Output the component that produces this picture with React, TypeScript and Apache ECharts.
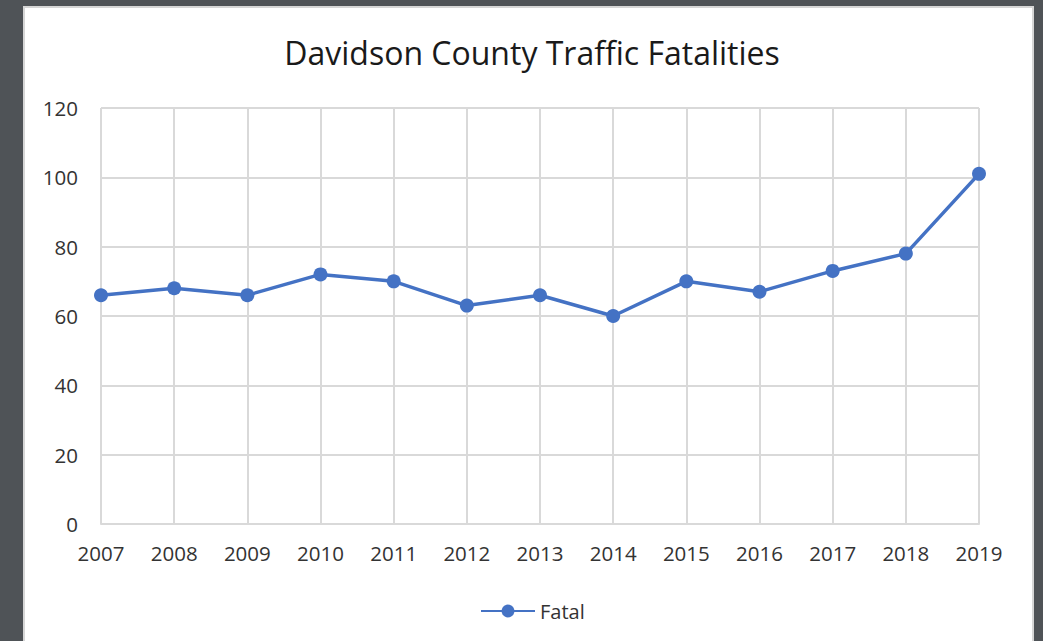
import React, { useEffect, useRef } from "react";
import * as echarts from "echarts";

const years = ["2007","2008","2009","2010","2011","2012","2013","2014","2015","2016","2017","2018","2019"];
const fatal = [66, 68, 66, 72, 70, 63, 66, 60, 70, 67, 73, 78, 101];
const seriesName = "Fatal";
const titleText = "Davidson County Traffic Fatalities";

export default function App() {
  const ref = useRef<HTMLDivElement>(null);
  useEffect(() => {
    document.body.style.margin = "0";
    const chart = echarts.init(ref.current!, undefined, { renderer: "svg" });
    const font = "'Open Sans', sans-serif";
    chart.setOption({
      animation: false,
      backgroundColor: "#4f5357",
      graphic: [
        {
          type: "rect",
          z: -10,
          shape: { x: 24, y: 7, width: 1009, height: 640 },
          style: { fill: "#ffffff", stroke: "#d6d6d6", lineWidth: 2 },
        },
      ],
      title: {
        text: titleText,
        left: 527,
        textAlign: "center",
        top: 31,
        textStyle: { fontFamily: font, fontSize: 32, fontWeight: "normal", color: "#1a1a1a" },
      },
      legend: {
        data: [seriesName],
        left: 475,
        top: 596,
        itemWidth: 54,
        itemHeight: 16,
        itemGap: 6,
        textStyle: { fontFamily: font, fontSize: 20, color: "#333333" },
      },
      grid: { left: 101, right: 64, top: 108, bottom: 117 },
      xAxis: {
        type: "category",
        data: years,
        boundaryGap: false,
        axisLine: { lineStyle: { color: "#d9d9d9", width: 2 } },
        axisTick: { show: false },
        axisLabel: { fontFamily: font, fontSize: 20.5, color: "#333333", margin: 18 },
        splitLine: { show: true, lineStyle: { color: "#d9d9d9", width: 2 } },
      },
      yAxis: {
        type: "value",
        min: 0,
        max: 120,
        interval: 20,
        axisLine: { show: false },
        axisTick: { show: false },
        axisLabel: { fontFamily: font, fontSize: 20.5, color: "#333333", margin: 23 },
        splitLine: { lineStyle: { color: "#d9d9d9", width: 2 } },
      },
      series: [
        {
          name: seriesName,
          type: "line",
          data: fatal,
          symbol: "circle",
          symbolSize: 14,
          lineStyle: { color: "#4472c4", width: 3.5 },
          itemStyle: { color: "#4472c4" },
        },
      ],
    });
    return () => chart.dispose();
  }, []);
  return <div ref={ref} style={{ position: "fixed", left: 0, top: 0, width: 1043, height: 641 }} />;
}
